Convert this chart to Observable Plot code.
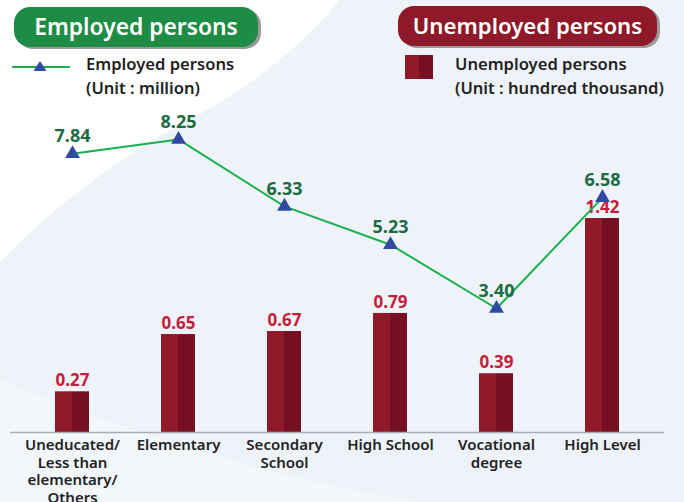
<!DOCTYPE html>
<html><head><meta charset="utf-8">
<script src="https://cdn.jsdelivr.net/npm/d3@7"></script>
<script src="https://cdn.jsdelivr.net/npm/@observablehq/plot@0.6"></script>
<style>
body{margin:0;background:#eef3fa;}
#wrap{position:relative;width:684px;height:502px;overflow:hidden;background:#eef3fa;font-family:"Noto Sans",sans-serif;}
#bg{position:absolute;left:0;top:0;}
.pill{position:absolute;border-radius:16px;color:#fff;font-size:22.8px;font-weight:600;text-align:center;line-height:40px;box-shadow:3px 2px 0 #9a9a9a;}
.leg{position:absolute;font-size:16.6px;font-weight:600;color:#222;line-height:24px;}
#chart{position:absolute;left:0;top:0;}
#src{position:absolute;left:370px;top:497px;font-size:16px;font-weight:600;color:#222;white-space:nowrap;}
</style></head>
<body>
<div id="wrap">
<svg id="bg" width="684" height="502"><path d="M0,0 L340,0 C290,60 230,100 170,130 C110,165 50,210 0,262 Z" fill="#ffffff"/><path d="M0,380 C150,440 280,480 420,502 L0,502 Z" fill="#f2f7fc"/></svg>
<div id="chart"></div>
<div class="pill" style="left:14px;top:7px;width:244px;background:#1f8c46;">Employed persons</div>
<div class="pill" style="left:398px;top:6px;width:259px;background:#8e1a29;font-size:22.2px;">Unemployed persons</div>
<svg style="position:absolute;left:0;top:50px" width="90" height="40"><line x1="12" x2="70" y1="17" y2="17" stroke="#19b04b" stroke-width="2"/><path d="M40,11 L46.5,21 L33.5,21 Z" fill="#2f4aa0"/></svg>
<div class="leg" style="left:86px;top:52px;">Employed persons<br>(Unit : million)</div>
<svg style="position:absolute;left:405px;top:55px" width="28" height="24"><rect x="0" y="0" width="14" height="24" fill="#8e1a2a"/><rect x="14" y="0" width="14" height="24" fill="#760f24"/></svg>
<div class="leg" style="left:455px;top:52px;">Unemployed persons<br>(Unit : hundred thousand)</div>
<div id="src">Source : National Statistical Office</div>
</div>
<script>
const categories = ["Uneducated/\nLess than\nelementary/\nOthers", "Elementary", "Secondary\nSchool", "High School", "Vocational\ndegree", "High Level"];
const employed = [7.84, 8.25, 6.33, 5.23, 3.40, 6.58];     // million
const unemployed = [0.27, 0.65, 0.67, 0.79, 0.39, 1.42];   // hundred thousand

// secondary axis: employed values mapped onto the unemployed (bar) axis
const y2 = v => 0.0365 + v * 0.2313;

const data = categories.map((c, i) => ({cat: c, emp: employed[i], unemp: unemployed[i]}));

const chart = Plot.plot({
  width: 684, height: 502,
  marginTop: 20, marginBottom: 70, marginLeft: 10, marginRight: 20,
  style: {background: "transparent", fontFamily: "Noto Sans, sans-serif"},
  x: {type: "band", domain: categories, paddingInner: 0.68, paddingOuter: 0.413, label: null},
  y: {domain: [0, 2.734], axis: null},
  marks: [
    Plot.barY(data, {x: "cat", y: "unemp", fill: "#8e1a2a", insetRight: 17}),
    Plot.barY(data, {x: "cat", y: "unemp", fill: "#760f24", insetLeft: 17}),
    Plot.ruleY([0], {stroke: "#a9adb3", strokeWidth: 1.5}),
    Plot.text(data, {x: "cat", y: "unemp", text: d => d.unemp.toFixed(2), dy: -11, fill: "#c41e3a", fontSize: 17, fontWeight: 700}),
    Plot.line(data, {x: "cat", y: d => y2(d.emp), stroke: "#19b04b", strokeWidth: 2}),
    Plot.dot(data, {x: "cat", y: d => y2(d.emp), symbol: "triangle", r: 5.5, fill: "#2f4aa0", stroke: "none"}),
    Plot.text(data, {x: "cat", y: d => y2(d.emp), text: d => d.emp.toFixed(2), dy: -17, fill: "#1d6b42", fontSize: 18, fontWeight: 700}),
    Plot.axisX({tickSize: 0, tickPadding: 5, fontSize: 15, fontWeight: 600, fill: "#222", lineHeight: 1.17, label: null})
  ]
});
document.getElementById("chart").appendChild(chart);
</script>
</body></html>
